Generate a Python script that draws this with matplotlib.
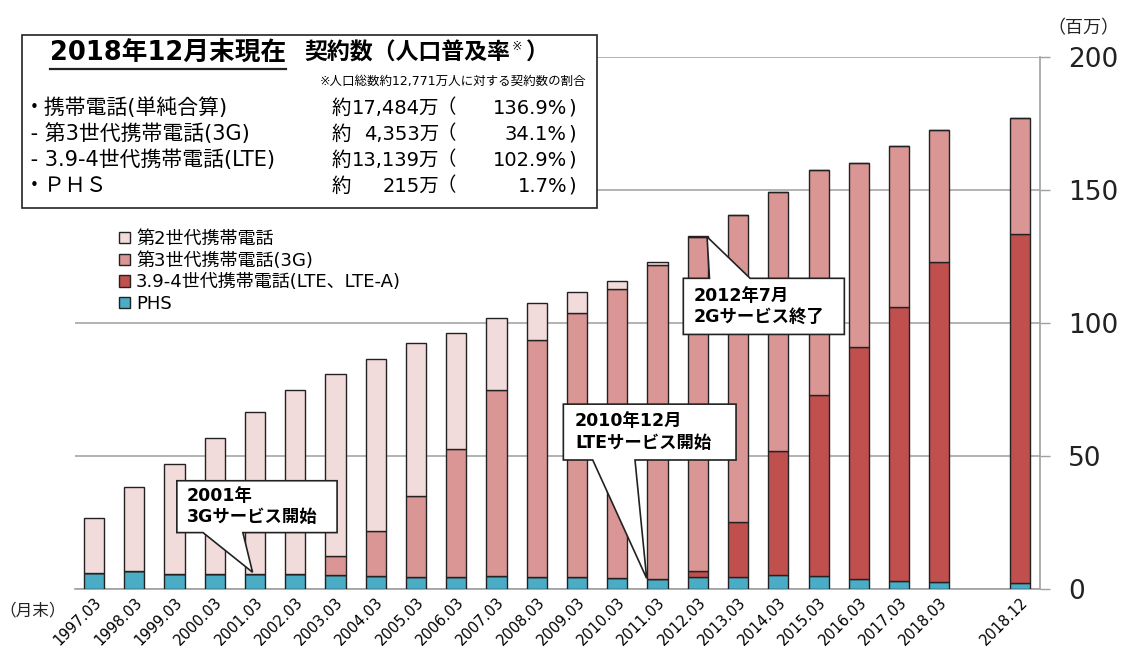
import matplotlib
matplotlib.use("Agg")
import matplotlib.pyplot as plt
from matplotlib.patches import Polygon, Rectangle
from matplotlib.lines import Line2D
import numpy as np

plt.rcParams['font.family'] = ['DejaVu Sans', 'Noto Sans CJK JP']

# data (millions)
labels = ['1997.03', '1998.03', '1999.03', '2000.03', '2001.03', '2002.03', '2003.03',
          '2004.03', '2005.03', '2006.03', '2007.03', '2008.03', '2009.03', '2010.03',
          '2011.03', '2012.03', '2013.03', '2014.03', '2015.03', '2016.03', '2017.03',
          '2018.03', '2018.12']
phs = [5.9, 6.8, 5.7, 5.7, 5.7, 5.7, 5.3, 4.9, 4.4, 4.6, 4.9, 4.4, 4.5, 4.0, 3.6,
       4.4, 4.6, 5.3, 4.9, 3.9, 3.1, 2.5, 2.15]
lte = [0, 0, 0, 0, 0, 0, 0, 0, 0, 0, 0, 0, 0, 0, 0,
       2.4, 20.6, 46.6, 67.9, 87.2, 102.9, 120.4, 131.39]
g3 = [0, 0, 0, 0, 0, 0, 7.1, 16.8, 30.4, 48.2, 69.9, 89.2, 99.3, 108.9, 118.2,
      125.7, 115.4, 97.2, 84.7, 69.2, 60.4, 49.5, 43.53]
g2 = [20.9, 31.4, 41.4, 50.9, 61.0, 69.0, 68.5, 64.8, 57.5, 43.4, 27.0, 13.8, 8.0, 3.0, 1.1,
      0.2, 0, 0, 0, 0, 0, 0, 0]

series_names = ['第2世代携帯電話', '第3世代携帯電話(3G)', '3.9-4世代携帯電話(LTE、LTE-A)', 'PHS']
colors = {'g2': '#F2DCDB', 'g3': '#D99694', 'lte': '#C0504D', 'phs': '#4BACC6'}

W, H = 1121, 655
fig = plt.figure(figsize=(W / 100, H / 100), dpi=100)
ax = fig.add_axes([75 / W, 1 - 589 / H, (1040 - 75) / W, (589 - 57) / H])

# last bar is set apart by one empty slot
x = np.array(list(range(len(labels) - 1)) + [len(labels)])
kw = dict(width=0.5, edgecolor='#222222', linewidth=1.0, zorder=3)
b_phs = ax.bar(x, phs, color=colors['phs'], **kw)
bottom = np.array(phs)
b_lte = ax.bar(x, lte, bottom=bottom, color=colors['lte'], **kw)
bottom = bottom + np.array(lte)
b_g3 = ax.bar(x, g3, bottom=bottom, color=colors['g3'], **kw)
bottom = bottom + np.array(g3)
b_g2 = ax.bar(x, g2, bottom=bottom, color=colors['g2'], **kw)

ax.set_xlim(-0.47, 23.5)
ax.set_ylim(0, 200)
ax.set_yticks([0, 50, 100, 150, 200])
ax.yaxis.tick_right()
ax.tick_params(axis='y', length=7, width=1, color='#A0A0A0', pad=13, labelsize=19, labelcolor='#222222')
ax.grid(axis='y', color='#A6A6A6', linewidth=1.2, zorder=0)
ax.set_axisbelow(True)
ax.set_xticks(x)
ax.set_xticklabels(labels, rotation=45, ha='right', rotation_mode='anchor', fontsize=10.5)
ax.tick_params(axis='x', length=0, pad=4)
for s in ['top', 'left']:
    ax.spines[s].set_visible(False)
ax.spines['right'].set_color('#A0A0A0')
ax.spines['bottom'].set_color('#A0A0A0')
ax.spines['right'].set_linewidth(1.2)
ax.spines['bottom'].set_linewidth(1.2)

fig.text(1119 / W, 1 - 28 / H, '（百万）', fontsize=13, ha='right', va='center', color='#222222')
fig.text(33 / W, 1 - 610 / H, '（月末）', fontsize=12, ha='center', va='center', color='#222222')

# legend
leg = ax.legend([b_g2, b_g3, b_lte, b_phs], series_names, loc='upper left',
                bbox_to_anchor=(110 / W, 1 - 221 / H), bbox_transform=fig.transFigure,
                frameon=False, fontsize=13, handlelength=0.6, handleheight=0.6,
                handletextpad=0.35, labelspacing=0.2, borderpad=0)

# callouts
def callout(poly, text, tx, ty):
    ax.add_patch(Polygon(poly, closed=True, facecolor='white', edgecolor='#222222',
                         linewidth=1.2, zorder=5))
    ax.text(tx, ty, text, fontsize=12.5, fontweight='bold', ha='left', va='center',
            linespacing=1.25, zorder=6)

callout([(2.06, 21.2), (2.71, 21.2), (3.94, 6.3), (3.70, 21.2), (6.04, 21.2),
         (6.04, 40.7), (2.06, 40.7)], '2001年\n3Gサービス開始', 2.3, 31.0)
callout([(11.66, 48.5), (12.39, 48.5), (13.73, 4.0), (13.44, 48.5), (15.95, 48.5),
         (15.95, 69.5), (11.66, 69.5)], '2010年12月\nLTEサービス開始', 11.95, 59.0)
callout([(14.64, 95.7), (18.64, 95.7), (18.64, 116.8), (16.30, 116.8), (15.23, 132.4),
         (15.29, 116.8), (14.64, 116.8)], '2012年7月\n2Gサービス終了', 14.9, 106.2)

# info box
fig.patches.append(Rectangle((22 / W, 1 - 208 / H), (597 - 22) / W, (208 - 35) / H,
                             transform=fig.transFigure, facecolor='white',
                             edgecolor='#222222', linewidth=1.2, zorder=10))
renderer = fig.canvas.get_renderer()
ty = 1 - 53 / H
t1 = fig.text(50 / W, ty, '2018年12月末現在', fontsize=18.5, fontweight='bold',
              ha='left', va='center', zorder=11)
bb = t1.get_window_extent(renderer=renderer)
fig.lines.append(Line2D([bb.x0 / W, bb.x1 / W], [1 - 69 / H, 1 - 69 / H], transform=fig.transFigure,
                        color='#222222', linewidth=1.6, zorder=11))
t2 = fig.text(304 / W, ty, '契約数（人口普及率', fontsize=16.5, fontweight='bold',
              ha='left', va='center', zorder=11)
bb = t2.get_window_extent(renderer=renderer)
t3 = fig.text(bb.x1 / W + 2 / W, 1 - 46 / H, '※', fontsize=9, ha='left', va='center', zorder=11)
bb = t3.get_window_extent(renderer=renderer)
fig.text(bb.x1 / W + 4 / W, ty, '）', fontsize=16.5, fontweight='bold',
         ha='left', va='center', zorder=11)
fig.text(586 / W, 1 - 81 / H, '※人口総数約12,771万人に対する契約数の割合', fontsize=9,
         ha='right', va='center', zorder=11)

left_items = ['・携帯電話(単純合算)', ' - 第3世代携帯電話(3G)', ' - 3.9-4世代携帯電話(LTE)', '・ＰＨＳ']
amounts = ['17,484万', '4,353万', '13,139万', '215万']
rates = ['136.9%', '34.1%', '102.9%', '1.7%']
row_y = [108, 134, 160, 186]
for name, amt, rate, yy in zip(left_items, amounts, rates, row_y):
    fy = 1 - yy / H
    fig.text(24 / W, fy, name, fontsize=15, ha='left', va='center', zorder=11)
    fig.text(332 / W, fy, '約', fontsize=14, ha='left', va='center', zorder=11)
    fig.text(439 / W, fy, amt, fontsize=14, ha='right', va='center', zorder=11)
    fig.text(437 / W, fy, '（', fontsize=14, ha='left', va='center', zorder=11)
    fig.text(567 / W, fy, rate, fontsize=14, ha='right', va='center', zorder=11)
    fig.text(568 / W, fy, ')', fontsize=14, ha='left', va='center', zorder=11)

fig.savefig('out.png', dpi=100)
